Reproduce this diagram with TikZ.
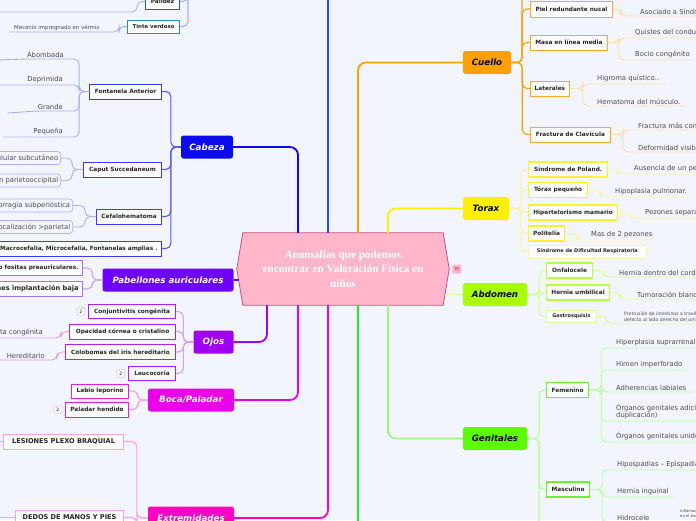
\documentclass[tikz,border=0pt]{standalone}
\usepackage{fontspec}
\setmainfont{DejaVu Sans}
\newfontfamily\rootfont{Liberation Serif}
\usetikzlibrary{positioning}

\definecolor{bgC}{HTML}{F3F5FE}
\definecolor{rootC}{HTML}{FFB6CB}
\definecolor{rootD}{HTML}{C8507A}
\definecolor{cabC}{HTML}{0B0BEB}
\definecolor{cabB}{HTML}{3A3AFF}
\definecolor{cabM}{HTML}{5A5AFF}
\definecolor{cabL}{HTML}{A9B0FF}
\definecolor{upC}{HTML}{1F4FFF}
\definecolor{tinB}{HTML}{2A8AC8}
\definecolor{pabC}{HTML}{6E00FF}
\definecolor{pabB}{HTML}{A070FF}
\definecolor{pabL}{HTML}{C8A8FF}
\definecolor{ojoC}{HTML}{A000F2}
\definecolor{ojoB}{HTML}{B020F0}
\definecolor{ojoL}{HTML}{D8A0F0}
\definecolor{bocC}{HTML}{E800E8}
\definecolor{bocB}{HTML}{E020E0}
\definecolor{bocL}{HTML}{F0A0F0}
\definecolor{extC}{HTML}{FF00C4}
\definecolor{extB}{HTML}{FFA0E4}
\definecolor{cueC}{HTML}{FFA000}
\definecolor{cueB}{HTML}{FFA828}
\definecolor{cueL}{HTML}{FFDDA8}
\definecolor{torC}{HTML}{FFF000}
\definecolor{torB}{HTML}{FFF030}
\definecolor{torL}{HTML}{FFF3A8}
\definecolor{abdC}{HTML}{A8FF00}
\definecolor{abdB}{HTML}{B8FF40}
\definecolor{abdL}{HTML}{D8FF9A}
\definecolor{genC}{HTML}{5CFF00}
\definecolor{genB}{HTML}{70F030}
\definecolor{genL}{HTML}{B8FFA0}
\definecolor{grnC}{HTML}{22EE22}

\begin{document}
\begin{tikzpicture}[
  x=1pt, y=-1pt,
  rootN/.style={minimum width=212pt, minimum height=72pt, inner sep=0pt},
  rootS/.style={draw=rootD, fill=rootC, line width=0.8pt},
  rootT/.style={align=center, text=white, inner sep=0pt, font=\rootfont\bfseries\fontsize{11.2}{14.8}\selectfont},
  icon/.style={fill=rootC, rounded corners=1pt, minimum size=9pt, inner sep=0pt, text=rootD, font=\fontsize{7.5}{7.5}\selectfont},
  topic/.style={rounded corners=2.5pt, inner sep=0pt, minimum height=23pt, font=\fontsize{8.7}{10}\selectfont\bfseries\itshape},
  box/.style={draw, fill=white, line width=0.9pt, inner xsep=4pt, inner ysep=0pt, minimum height=15pt,
    font=\fontsize{5.8}{6.8}\selectfont\bfseries, text=black!85},
  leaf/.style={inner xsep=0pt, inner ysep=1.5pt, anchor=south west, font=\fontsize{6.8}{7.8}\selectfont, text=black!70},
  lbox/.style={draw=cabL, rounded corners=3pt, line width=0.7pt, inner sep=2.5pt, minimum height=13pt,
    font=\fontsize{6.8}{7.8}\selectfont, text=black!70},
  badge/.style={draw=ojoL, fill=white, rounded corners=1.5pt, inner sep=0pt, minimum width=8pt, minimum height=8pt,
    font=\fontsize{4.5}{5}\selectfont},
  mainln/.style={line width=1.8pt, rounded corners=8pt},
  subln/.style={line width=1.1pt, rounded corners=5pt},
  leafln/.style={line width=0.9pt, rounded corners=5pt}
]
\useasboundingbox (0,0) rectangle (696,520);
\fill[bgC] (0,0) rectangle (696,520);

% centre
\node[rootN] (root) at (343,269) {};
\draw[rootS] ([xshift=6pt]root.north west) -- ([xshift=-6pt]root.north east) -- (root.east)
  -- ([xshift=-6pt]root.south east) -- ([xshift=6pt]root.south west) -- (root.west) -- cycle;
\node[rootT] (roottxt) at (root.center) {Anomalias que podemos\\encontrar en Valoración Física en\\niños};
\node[icon, right=3pt of root] (ico) {≡};

% topics
\node[topic, fill=cabC, text=white, minimum width=52pt] (cab) at (207,147) {Cabeza};
\node[topic, fill=pabC, text=white, minimum width=131pt] (pab) at (168,280) {Pabellones auriculares};
\node[topic, fill=ojoC, text=white, minimum width=40pt] (ojo) at (213.5,342) {Ojos};
\node[topic, fill=bocC, text=white, minimum width=86pt] (boc) at (191,400) {Boca/Paladar};
\node[topic, fill=extC, text=white, minimum width=86pt] (ext) at (191,518) {Extremidades};
\node[topic, fill=cueC, minimum width=48pt] (cue) at (487,62.5) {Cuello};
\node[topic, fill=torC, minimum width=46pt] (tor) at (486,208.5) {Torax};
\node[topic, fill=abdC, minimum width=64pt] (abd) at (495,294.5) {Abdomen};
\node[topic, fill=genC, minimum width=64pt] (gen) at (495,438.5) {Genitales};

\coordinate (upb) at (328,-10);
\coordinate (dwn) at (358,530);
\coordinate (pup) at (188,-10);
\coordinate (cueup) at (522,-10);
\coordinate (gendn) at (539,530);
\coordinate (plft) at (-5,12);

\draw[mainln, draw=cabC] (cab.east) -| ([xshift=-45pt]root.north);
\draw[mainln, draw=upC] ([xshift=-15pt]root.north) -- (upb);
\draw[mainln, draw=cueC] ([xshift=15pt]root.north) |- (cue.west);
\draw[mainln, draw=torC] ([xshift=45pt]root.north) |- (tor.west);
\draw[mainln, draw=pabC] (pab.east) -- ([xshift=2pt,yshift=-11pt]root.west);
\draw[mainln, draw=abdL] (abd.west) -- ([xshift=-4.25pt,yshift=-25.5pt]root.east);
\draw[mainln, draw=ojoC] ([xshift=-76pt]root.south) |- (ojo.east);
\draw[mainln, draw=bocC] ([xshift=-45pt]root.south) |- (boc.east);
\draw[mainln, draw=extC] ([xshift=-15pt]root.south) |- (ext.east);
\draw[mainln, draw=grnC] ([xshift=15pt]root.south) -- (dwn);
\draw[mainln, draw=genC!80!black!20!genL] ([xshift=45pt]root.south) |- (gen.west);

% Cabeza
\node[box, draw=upC, anchor=east, minimum width=34pt] (pal) at (180,1.5) {Palidez};
\node[box, draw=tinB, anchor=east, minimum width=52pt, minimum height=13pt, font=\fontsize{5.4}{6}\selectfont\bfseries] (tin) at (180,26.5) {Tinte verdoso};
\node[leaf, anchor=south west, font=\fontsize{5.4}{6}\selectfont] (mec) at (14,32) {Meconio impregnado en vérmix};
\node[box, draw=cabB, anchor=east, minimum width=72pt] (fon) at (162,91.5) {Fontanela Anterior};
\node[box, draw=cabB, anchor=east, minimum width=78pt] (cap) at (162,169.5) {Caput Succedaneum};
\node[box, draw=cabB, anchor=east, minimum width=65pt] (cef) at (162,216.5) {Cefalohematoma};
\node[box, draw=cabB, anchor=east] (mac) at (162,248.5) {Macrocefalia, Microcefalia, Fontanelas amplias .};
\node[leaf, anchor=south east] (abo) at (64,59) {Abombada};
\node[leaf, anchor=south east] (dep) at (63,85) {Deprimida};
\node[leaf, anchor=south east] (gra) at (63,111) {Grande};
\node[leaf, anchor=south east] (peq) at (63,137) {Pequeña};
\node[lbox, anchor=east] (cp1) at (61,158) {Edema del tejido celular subcutáneo};
\node[lbox, anchor=east] (cp2) at (61,180.5) {Localización parietooccipital};
\node[lbox, anchor=east] (cf1) at (73,205.5) {Hemorragia subperióstica};
\node[lbox, anchor=east] (cf2) at (73,227) {Localización >parietal};

\draw[subln, draw=cabL] (pal.east) -| (pup);
\draw[subln, draw=cabL] (tin.east) -| (pup);
\draw[leafln, draw=cabL] (tin.west) -- ++(-8,0) |- (mec.south east) -- (mec.south west) -- ++(-4,0);
\draw[leafln, draw=cabL] (pal.west) -- ++(-8,0) |- (plft);
\draw[subln, draw=cabM] (cab.west) -- ++(-10,0) |- (fon.east);
\draw[subln, draw=cabM] (cab.west) -- ++(-10,0) |- (cap.east);
\draw[subln, draw=cabM] (cab.west) -- ++(-10,0) |- (cef.east);
\draw[subln, draw=cabM] (cab.west) -- ++(-10,0) |- (mac.east);
\draw[leafln, draw=cabL] (fon.west) -- ++(-10,0) |- (abo.south east) -- (abo.south west) -- ++(-30,1);
\draw[leafln, draw=cabL] (fon.west) -- ++(-10,0) |- (dep.south east) -- (dep.south west) -- ++(-30,0);
\draw[leafln, draw=cabL] (fon.west) -- ++(-10,0) |- (gra.south east) -- (gra.south west) -- ++(-30,2);
\draw[leafln, draw=cabL] (fon.west) -- ++(-10,0) |- (peq.south east) -- (peq.south west) -- ++(-30,0);
\draw[leafln, draw=cabL] (cap.west) -- ++(-11,0) |- (cp1.east);
\draw[leafln, draw=cabL] (cap.west) -- ++(-11,0) |- (cp2.east);
\draw[leafln, draw=cabL] (cef.west) -- ++(-11,0) |- (cf1.east);
\draw[leafln, draw=cabL] (cef.west) -- ++(-11,0) |- (cf2.east);

% Pabellones
\node[box, draw=pabB, anchor=east] (pb1) at (83,268) {Apéndices o fositas preauriculares.};
\node[box, draw=pabB, anchor=east, font=\fontsize{6.6}{7.6}\selectfont\bfseries] (pb2) at (83,289) {Pabellones implantación baja};
\draw[subln, draw=pabL] (pab.west) -- ++(-10,0) |- (pb1.east);
\draw[subln, draw=pabL] (pab.west) -- ++(-10,0) |- (pb2.east);

% Ojos
\node[box, draw=ojoB, anchor=east, minimum width=87pt, minimum height=14pt] (conj) at (176,311.5) {Conjuntivitis congénita};
\node[box, draw=ojoB, anchor=east, minimum width=106pt] (opa) at (176,331.5) {Opacidad córnea o cristalino};
\node[box, draw=ojoB, anchor=east, minimum width=110pt] (col) at (176,352) {Colobomas del iris hereditario};
\node[box, draw=ojoB, anchor=east, minimum width=47pt, minimum height=14pt] (leu) at (176,373.5) {Leucocoria};
\node[badge, left=3pt of conj] (bg1) {2};
\node[badge, left=3pt of leu] (bg2) {2};
\node[leaf, anchor=south east] (cat) at (43,338) {Catarata congénita};
\node[leaf, anchor=south east] (her) at (45,360) {Hereditario};
\draw[subln, draw=ojoL] (ojo.west) -- ++(-10,0) |- (conj.east);
\draw[subln, draw=ojoL] (ojo.west) -- ++(-10,0) |- (opa.east);
\draw[subln, draw=ojoL] (ojo.west) -- ++(-10,0) |- (col.east);
\draw[subln, draw=ojoL] (ojo.west) -- ++(-10,0) |- (leu.east);
\draw[leafln, draw=ojoL] (opa.west) -- ++(-8,0) |- (cat.south east) -- (cat.south west) -- ++(-10,0);
\draw[leafln, draw=ojoL] (col.west) -- ++(-8,0) |- (her.south east) -- (her.south west) -- ++(-10,0);

% Boca / Paladar
\node[box, draw=bocB, anchor=east, minimum width=57pt, minimum height=14pt] (lab) at (129,391) {Labio leporino};
\node[box, draw=bocB, anchor=east, minimum width=63pt] (pah) at (129,409.5) {Paladar hendido};
\node[badge, draw=bocL, left=3pt of pah] (bg3) {2};
\draw[subln, draw=bocL] (boc.west) -- ++(-10,0) |- (lab.east);
\draw[subln, draw=bocL] (boc.west) -- ++(-10,0) |- (pah.east);

% Extremidades
\node[box, draw=extB, anchor=east, minimum width=120pt, font=\fontsize{6.6}{7.6}\selectfont\bfseries] (les) at (124,441.5) {LESIONES PLEXO BRAQUIAL};
\node[box, draw=extB, anchor=east, minimum width=108pt, font=\fontsize{6.6}{7.6}\selectfont\bfseries] (ded) at (124,517.5) {DEDOS DE MANOS Y PIES};
\draw[subln, draw=extB] (ext.west) -- ++(-11,0) |- (les.east);
\draw[subln, draw=extB] (ext.west) -- ++(-11,0) |- (ded.east);
\draw[leafln, draw=extB] (les.west) -- ++(-10,0);
\draw[leafln, draw=extB] (ded.west) -- ++(-10,0) to[out=180,in=-80] ++(-10,-40);
\draw[leafln, draw=extB] (ded.west) -- ++(-12,0) to[out=180,in=-70] ++(-8,-20);

% Cuello
\node[box, draw=cueB, anchor=west, minimum width=82pt, minimum height=16pt] (pie) at (530,9) {Piel redundante nucal};
\node[box, draw=cueB, anchor=west, minimum width=77pt] (mas) at (530,42.5) {Masa en línea media};
\node[box, draw=cueB, anchor=west, minimum width=39pt] (lat) at (530,88.5) {Laterales};
\node[box, draw=cueB, anchor=west, minimum width=80pt] (fra) at (530,134.5) {Fractura de Clavícula};
\node[leaf] (aso) at (640,16) {Asociado a Síndrome de Turner};
\node[leaf] (qui) at (635,38) {Quistes del conducto tirogloso};
\node[leaf] (boci) at (635,60) {Bocio congénito};
\node[leaf] (hig) at (597,84) {Higroma quístico..};
\node[leaf] (hem) at (597,106) {Hematoma del músculo.};
\node[leaf] (frm) at (638,130) {Fractura más común};
\node[leaf] (def) at (638,152) {Deformidad visible};
\draw[subln, draw=cueC] (cue.east) -| (cueup);
\draw[subln, draw=cueC] (cue.east) -- ++(11,0) |- (pie.west);
\draw[subln, draw=cueC] (cue.east) -- ++(11,0) |- (mas.west);
\draw[subln, draw=cueC] (cue.east) -- ++(11,0) |- (lat.west);
\draw[subln, draw=cueC] (cue.east) -- ++(11,0) |- (fra.west);
\draw[leafln, draw=cueL] (pie.east) -- ++(8,0) |- (aso.south west) -- (aso.south east);
\draw[leafln, draw=cueL] (mas.east) -- ++(11,0) |- (qui.south west) -- (qui.south east);
\draw[leafln, draw=cueL] (mas.east) -- ++(11,0) |- (boci.south west) -- (boci.south east);
\draw[leafln, draw=cueL] (lat.east) -- ++(13,0) |- (hig.south west) -- (hig.south east) -- ++(6,0);
\draw[leafln, draw=cueL] (lat.east) -- ++(13,0) |- (hem.south west) -- (hem.south east) -- ++(5,0);
\draw[leafln, draw=cueL] (fra.east) -- ++(12,0) |- (frm.south west) -- (frm.south east);
\draw[leafln, draw=cueL] (fra.east) -- ++(12,0) |- (def.south west) -- (def.south east);

% Torax
\node[box, draw=torB, line width=1.2pt, anchor=west, minimum width=79pt] (pol) at (528,169.5) {Síndrome de Poland.};
\node[box, draw=torB, line width=1.2pt, anchor=west, minimum width=59pt] (tpq) at (528,190) {Tórax pequeño};
\node[box, draw=torB, line width=1.2pt, anchor=west, minimum width=89pt] (hpt) at (528,212.5) {Hipertelorismo mamario};
\node[box, draw=torB, line width=1.2pt, anchor=west, minimum width=36pt] (pli) at (528,233.5) {Politelia};
\node[box, draw=torL, line width=0.7pt, anchor=west, minimum width=118pt, minimum height=13pt, font=\fontsize{5}{6}\selectfont\bfseries] (sdr) at (528,251.5) {Síndrome de Dificultad Respiratoria};
\node[leaf] (aus) at (634,174) {Ausencia de un pectoral};
\node[leaf] (hpl) at (615,197) {Hipoplasia pulmonar.};
\node[leaf] (pez) at (645,218) {Pezones separados};
\node[leaf] (mdp) at (591,240) {Mas de 2 pezones};
\draw[subln, draw=torL] (tor.east) -- ++(12,0) |- (pol.west);
\draw[subln, draw=torL] (tor.east) -- ++(12,0) |- (tpq.west);
\draw[subln, draw=torL] (tor.east) -- ++(12,0) |- (hpt.west);
\draw[subln, draw=torL] (tor.east) -- ++(12,0) |- (pli.west);
\draw[subln, draw=torL] (tor.east) -- ++(12,0) |- (sdr.west);
\draw[leafln, draw=torL] (pol.east) -- ++(10,0) |- (aus.south west) -- (aus.south east);
\draw[leafln, draw=torL] (tpq.east) -- ++(12,0) |- (hpl.south west) -- (hpl.south east) -- ++(3,0);
\draw[leafln, draw=torL] (hpt.east) -- ++(12,0) |- (pez.south west) -- (pez.south east);
\draw[leafln, draw=torL] (pli.east) -- ++(11,0) |- (mdp.south west) -- (mdp.south east) -- ++(3,0);

% Abdomen
\node[box, draw=abdB, line width=1.2pt, anchor=west, minimum width=46pt] (onf) at (546,270.5) {Onfalocele};
\node[box, draw=abdB, line width=1.2pt, anchor=west, minimum width=63pt] (hum) at (546,292.5) {Hernia umbilical};
\node[box, draw=abdL, line width=0.8pt, anchor=west, minimum width=50pt, minimum height=12pt, font=\fontsize{5}{6}\selectfont\bfseries] (gas) at (546,316.5) {Gastrosquisis};
\node[leaf] (hdc) at (619,277) {Hernia dentro del cordón umbilical};
\node[leaf] (tub) at (637,299) {Tumoración blanda};
\node[leaf, align=left, font=\fontsize{4.6}{6}\selectfont] (pro) at (624,324) {Protrusión de intestinos a través\\defecto al lado derecho del ombligo};
\draw[subln, draw=abdL] (abd.east) -- ++(12,0) |- (onf.west);
\draw[subln, draw=abdL] (abd.east) -- ++(12,0) |- (hum.west);
\draw[subln, draw=abdL] (abd.east) -- ++(12,0) |- (gas.west);
\draw[leafln, draw=abdL] (onf.east) -- ++(10,0) |- (hdc.south west) -- (hdc.south east);
\draw[leafln, draw=abdL] (hum.east) -- ++(10,0) |- (tub.south west) -- (tub.south east);
\draw[leafln, draw=abdL] (gas.east) -- ++(10,0) |- (pro.south west) -- (pro.south east);

% Genitales
\node[box, draw=genB, line width=1.2pt, anchor=west, minimum width=42pt] (fem) at (546,390) {Femenino};
\node[box, draw=genB, line width=1.2pt, anchor=west, minimum width=43pt] (mcl) at (546,489.5) {Masculino};
\node[leaf] (hsr) at (616,348) {Hiperplasia suprarrenal congénita};
\node[leaf] (him) at (616,370) {Himen imperforado};
\node[leaf] (adh) at (616,392) {Adherencias labiales};
\node[leaf, align=left] (ogd) at (616,421) {Órganos genitales adicionales (por\\duplicación)};
\node[leaf] (ogu) at (616,442) {Órganos genitales unidos};
\node[leaf] (hsp) at (617,470) {Hipospadias – Epispadias};
\node[leaf] (hin) at (617,497) {Hernia inguinal};
\node[leaf] (hid) at (617,522) {Hidrocele};
\node[leaf, align=left, font=\fontsize{3.8}{5}\selectfont] (inf) at (680,519) {inflamación\\en el escroto};
\draw[subln, draw=genL] (gen.east) -- ++(12,0) |- (fem.west);
\draw[subln, draw=genL] (gen.east) -- ++(12,0) |- (mcl.west);
\draw[subln, draw=genL] (gen.east) -| (gendn);
\draw[leafln, draw=genL] (fem.east) -- ++(12,0) |- (hsr.south west) -- (hsr.south east);
\draw[leafln, draw=genL] (fem.east) -- ++(12,0) |- (him.south west) -- (him.south east) -- ++(3,0);
\draw[leafln, draw=genL] (fem.east) -- ++(12,0) |- (adh.south west) -- (adh.south east) -- ++(3,0);
\draw[leafln, draw=genL] (fem.east) -- ++(12,0) |- (ogd.south west) -- (ogd.south east);
\draw[leafln, draw=genL] (fem.east) -- ++(12,0) |- (ogu.south west) -- (ogu.south east);
\draw[leafln, draw=genL] (mcl.east) -- ++(12,0) |- (hsp.south west) -- (hsp.south east);
\draw[leafln, draw=genL] (mcl.east) -- ++(12,0) |- (hin.south west) -- (hin.south east) -- ++(3,0);
\draw[leafln, draw=genL] (mcl.east) -- ++(12,0) |- (hid.south west) -- (hid.south east);
\end{tikzpicture}
\end{document}
